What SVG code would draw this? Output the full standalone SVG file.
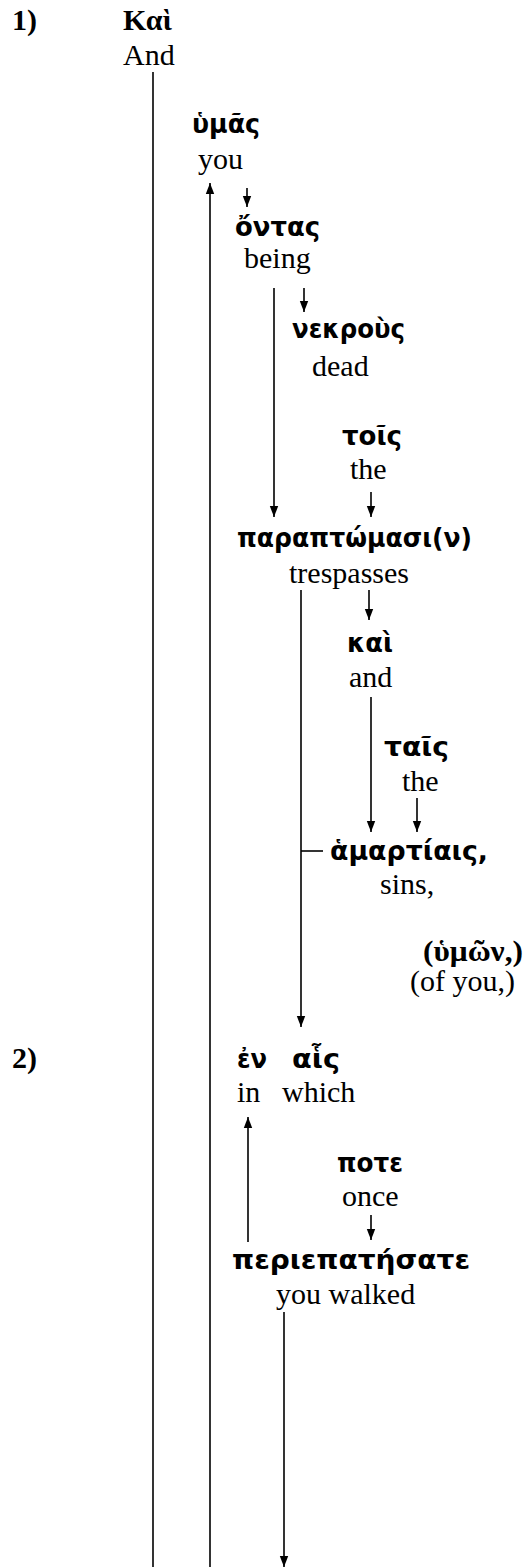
<svg xmlns="http://www.w3.org/2000/svg" width="529" height="1567" viewBox="0 0 529 1567">
<style>
.en{font-family:"Liberation Serif","Times New Roman",serif;font-size:30px;fill:#000}
.num{font-family:"Liberation Serif","Times New Roman",serif;font-size:30px;font-weight:bold;fill:#000}
.gk{font-family:"DejaVu Sans","Noto Sans",sans-serif;font-size:26px;font-weight:bold;fill:#000}
.gs{font-family:"Liberation Serif","Times New Roman",serif;font-size:30px;font-weight:bold;fill:#000}
.ln{stroke:#000;stroke-width:1.6;fill:none}
.ar{stroke:#000;stroke-width:1.6;fill:none;marker-end:url(#ah)}
</style>
<defs>
<marker id="ah" markerUnits="userSpaceOnUse" markerWidth="11" markerHeight="10" refX="11" refY="5" orient="auto">
<path d="M0,0.8 L11,5 L0,9.2 z" fill="#000"/>
</marker>
</defs>
<rect width="529" height="1567" fill="#fff"/>
<g id="connectors">
<line class="ln" x1="153" y1="72" x2="153" y2="1567"/>
<line class="ar" x1="210" y1="1567" x2="210" y2="183"/>
<line class="ar" x1="247" y1="188" x2="247" y2="207"/>
<line class="ar" x1="274" y1="288" x2="274" y2="517"/>
<line class="ar" x1="304" y1="288" x2="304" y2="312"/>
<line class="ar" x1="371" y1="492" x2="371" y2="517"/>
<line class="ar" x1="301" y1="590" x2="301" y2="1027"/>
<line class="ln" x1="301" y1="851" x2="323" y2="851"/>
<line class="ar" x1="369" y1="590" x2="369" y2="620"/>
<line class="ar" x1="371" y1="697" x2="371" y2="832"/>
<line class="ar" x1="417" y1="798" x2="417" y2="832"/>
<line class="ar" x1="248" y1="1242" x2="248" y2="1117"/>
<line class="ar" x1="371" y1="1215" x2="371" y2="1240"/>
<line class="ar" x1="284" y1="1312" x2="284" y2="1567"/>
</g>
<g id="label1"><text class="num" x="12" y="30">1)</text></g>
<g id="label2"><text class="num" x="12" y="1068">2)</text></g>
<g id="kai1"><text class="gs" x="123" y="30">Καὶ</text><text class="en" x="123" y="65">And</text></g>
<g id="humas"><text class="gk" x="192" y="133" textLength="68" lengthAdjust="spacingAndGlyphs">ὑμᾶς</text><text class="en" x="198" y="169">you</text></g>
<g id="ontas"><text class="gk" x="235" y="236" textLength="85" lengthAdjust="spacingAndGlyphs">ὄντας</text><text class="en" x="244" y="268">being</text></g>
<g id="nekrous"><text class="gk" x="292" y="338" textLength="113" lengthAdjust="spacingAndGlyphs">νεκροὺς</text><text class="en" x="312" y="376">dead</text></g>
<g id="tois"><text class="gk" x="342" y="445" textLength="60" lengthAdjust="spacingAndGlyphs">τοῖς</text><text class="en" x="350" y="479">the</text></g>
<g id="paraptomasi"><text class="gk" x="237" y="547" textLength="235" lengthAdjust="spacingAndGlyphs">παραπτώμασι(ν)</text><text class="en" x="289" y="583">trespasses</text></g>
<g id="kai2"><text class="gk" x="347" y="652" textLength="46" lengthAdjust="spacingAndGlyphs">καὶ</text><text class="en" x="349" y="687">and</text></g>
<g id="tais"><text class="gk" x="384" y="756" textLength="65" lengthAdjust="spacingAndGlyphs">ταῖς</text><text class="en" x="402" y="791">the</text></g>
<g id="hamartiais"><text class="gk" x="330" y="860" textLength="158" lengthAdjust="spacingAndGlyphs">ἁμαρτίαις,</text><text class="en" x="380" y="894">sins,</text></g>
<g id="humon"><text class="gs" x="423" y="961" textLength="100" lengthAdjust="spacingAndGlyphs">(ὑμῶν,)</text><text class="en" x="410" y="991">(of you,)</text></g>
<g id="en-hais"><text class="gk" y="1068"><tspan x="237" textLength="30" lengthAdjust="spacingAndGlyphs">ἐν</tspan><tspan x="292" textLength="48" lengthAdjust="spacingAndGlyphs">αἷς</tspan></text><text class="en" y="1102"><tspan x="237">in</tspan><tspan x="282">which</tspan></text></g>
<g id="pote"><text class="gk" x="337" y="1172" textLength="66" lengthAdjust="spacingAndGlyphs">ποτε</text><text class="en" x="342" y="1206">once</text></g>
<g id="periepatesate"><text class="gk" x="232" y="1269" textLength="238" lengthAdjust="spacingAndGlyphs">περιεπατήσατε</text><text class="en" x="276" y="1304">you walked</text></g>
</svg>
